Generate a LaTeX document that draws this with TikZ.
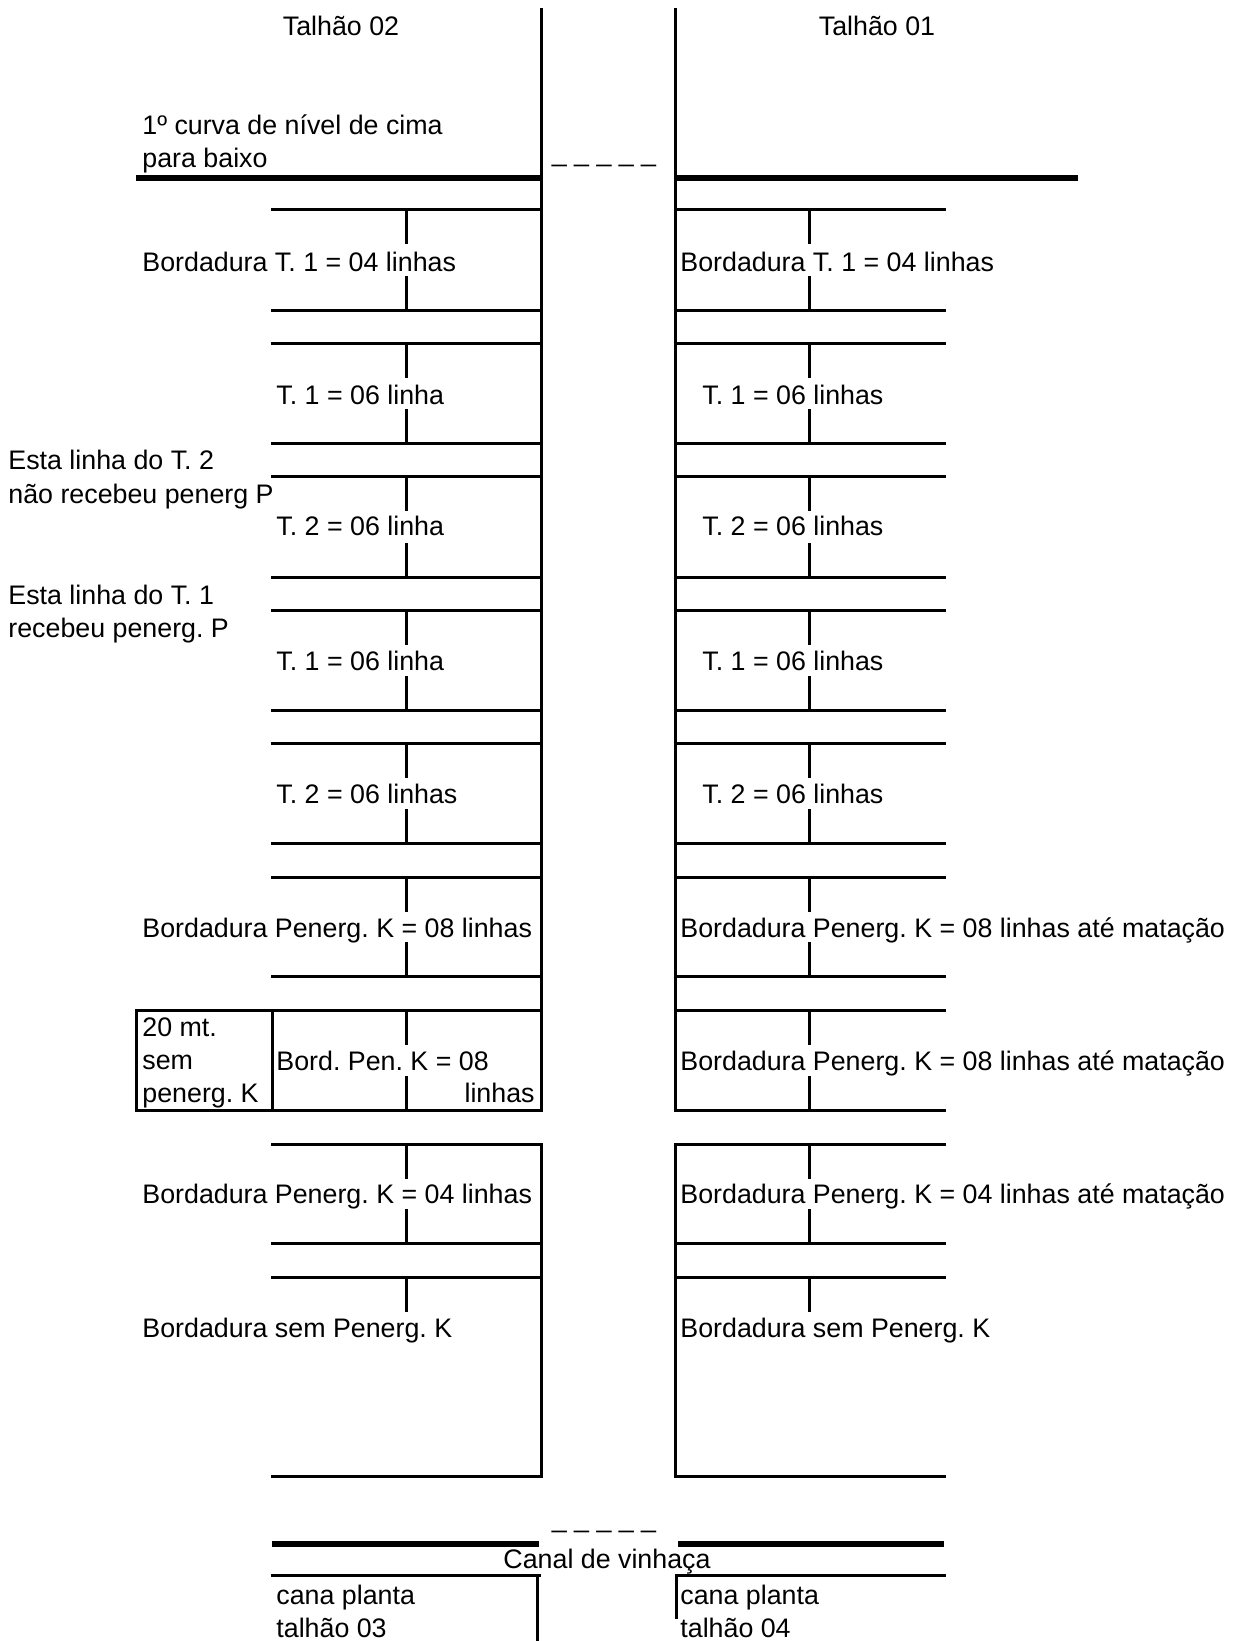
\documentclass[tikz,border=0pt]{standalone}
\usepackage{fontspec}
\setmainfont{Liberation Sans}
\frenchspacing
\begin{document}
\begin{tikzpicture}[x=0.5pt,y=-0.5pt,
  ln/.style={line width=1.5pt, line cap=rect},
  thk/.style={line width=2.9pt},
  lbl/.style={anchor=base west, inner sep=0pt, font=\fontsize{13.4}{16}\selectfont},
  lblc/.style={anchor=base, inner sep=0pt, font=\fontsize{13.4}{16}\selectfont},
  lble/.style={anchor=base east, inner sep=0pt, font=\fontsize{13.4}{16}\selectfont}]
\useasboundingbox (0,0) rectangle (1237,1641);
% main verticals
\draw[ln] (541,10) -- (541,1110) (541,1144) -- (541,1476);
\draw[ln] (675,10) -- (675,1110) (675,1144) -- (675,1476);
% thick contour lines
\draw[thk] (136,178) -- (541,178);
\draw[thk] (675,178) -- (1078,178);
% sections
\foreach \t/\b in {210/311,344/444,477/577,610/710,743/843,877/976,1010/1110,1144/1243}{
  \draw[ln] (272,\t) -- (541,\t) (272,\b) -- (541,\b);
  \draw[ln] (675,\t) -- (944,\t) (675,\b) -- (944,\b);
  \draw[ln] (406,\t) -- (406,\t+33) (406,\b-33) -- (406,\b);
  \draw[ln] (809,\t) -- (809,\t+33) (809,\b-33) -- (809,\b);
}
\draw[ln] (272,1277) -- (541,1277) (272,1476) -- (541,1476);
\draw[ln] (675,1277) -- (944,1277) (675,1476) -- (944,1476);
\draw[ln] (406,1277) -- (406,1310);
\draw[ln] (809,1277) -- (809,1310);
% box
\draw[ln] (136,1010) -- (272,1010) (136,1110) -- (272,1110);
\draw[ln] (136,1010) -- (136,1110);
\draw[ln] (272,1010) -- (272,1110);
% bottom
\draw[thk] (272,1544) -- (539,1544);
\draw[thk] (678,1544) -- (944,1544);
\draw[ln] (272,1575) -- (539,1575);
\draw[ln] (678,1575) -- (944,1575);
\draw[ln] (537,1575) -- (537,1641);
\draw[ln] (676,1575) -- (676,1617);
% labels
\node[lblc] (t02) at (341,36) {Talhão 02};
\node[lblc] (t01) at (877,36) {Talhão 01};
\node[lbl] (cn1) at (142,135) {1º curva de nível de cima};
\node[lbl] (cn2) at (142,168) {para baixo};
\node[lblc] (dsh1) at (604,162) {\_ \_ \_ \_ \_};
\node[lblc] (dsh2) at (604,1527) {\_ \_ \_ \_ \_};
% left sections
\node[lbl] (l1) at (142,272) {Bordadura T. 1 = 04 linhas};
\node[lbl] (l2) at (276,405) {T. 1 = 06 linha};
\node[lbl] (l3) at (276,536) {T. 2 = 06 linha};
\node[lbl] (l4) at (276,670) {T. 1 = 06 linha};
\node[lbl] (l5) at (276,803) {T. 2 = 06 linhas};
\node[lbl] (l6) at (142,937) {Bordadura Penerg. K = 08 linhas};
\node[lbl] (l7a) at (276,1070) {Bord. Pen. K = 08};
\node[lble] (l7b) at (535,1102) {linhas};
\node[lbl] (bx1) at (142,1036) {20 mt.};
\node[lbl] (bx2) at (142,1069) {sem};
\node[lbl] (bx3) at (142,1102) {penerg. K};
\node[lbl] (l8) at (142,1203) {Bordadura Penerg. K = 04 linhas};
\node[lbl] (l9) at (142,1337) {Bordadura sem Penerg. K};
% notes
\node[lbl] (n1a) at (8,470) {Esta linha do T. 2};
\node[lbl] (n1b) at (8,503) {não recebeu penerg P};
\node[lbl] (n2a) at (8,604) {Esta linha do T. 1};
\node[lbl] (n2b) at (8,637) {recebeu penerg. P};
% right sections
\node[lbl] (r1) at (680,272) {Bordadura T. 1 = 04 linhas};
\node[lbl] (r2) at (702,405) {T. 1 = 06 linhas};
\node[lbl] (r3) at (702,536) {T. 2 = 06 linhas};
\node[lbl] (r4) at (702,670) {T. 1 = 06 linhas};
\node[lbl] (r5) at (702,803) {T. 2 = 06 linhas};
\node[lbl] (r6) at (680,937) {Bordadura Penerg. K = 08 linhas até matação};
\node[lbl] (r7) at (680,1070) {Bordadura Penerg. K = 08 linhas até matação};
\node[lbl] (r8) at (680,1203) {Bordadura Penerg. K = 04 linhas até matação};
\node[lbl] (r9) at (680,1337) {Bordadura sem Penerg. K};
% bottom labels
\node[lblc] (canal) at (607,1568) {Canal de vinhaça};
\node[lbl] (cp3a) at (276,1604) {cana planta};
\node[lbl] (cp3b) at (276,1637) {talhão 03};
\node[lbl] (cp4a) at (680,1604) {cana planta};
\node[lbl] (cp4b) at (680,1637) {talhão 04};
\end{tikzpicture}
\end{document}
